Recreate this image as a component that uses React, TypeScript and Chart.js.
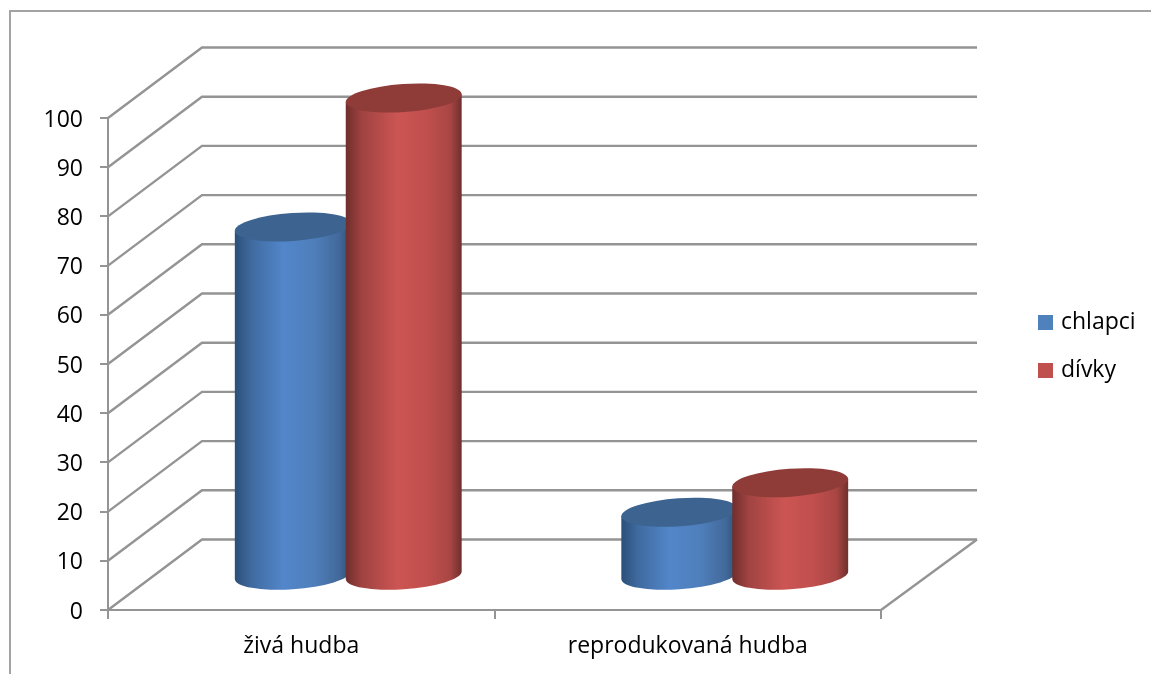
import React, { useEffect, useRef } from "react";
import { Chart, registerables } from "chart.js";

Chart.register(...registerables);

const categories = ["živá hudba", "reprodukovaná hudba"];
const chlapci = [71, 13];
const divky = [97.2, 19];
const seriesNames = ["chlapci", "dívky"];
const seriesColors = ["#4f81bd", "#c0504d"];
const topColors = ["#3d6491", "#8f3c39"];
const bodyStops = [
  [[0, "#2b4f78"], [0.14, "#3f6a9f"], [0.42, "#5286ca"], [0.68, "#4f7fbb"], [0.9, "#42699a"], [1, "#2d5078"]],
  [[0, "#6f2e2c"], [0.14, "#a04341"], [0.45, "#cc5553"], [0.7, "#c04f4d"], [0.9, "#a84644"], [1, "#702f2d"]],
];

const W = 1151;
const H = 674;
const DEPTH_X = 94;
const DEPTH_Y = -70.5;
const BASE_SHIFT = 1.5;
const TILT = (-4 * Math.PI) / 180;
const FONT = "'Open Sans', sans-serif";
const FONT_SIZE = 23;
const LINE = "#949494";

const drawCylinder = (ctx: any, bar: any, i: number) => {
  const hw = bar.width / 2;
  const cx = bar.x + DEPTH_X / 2;
  const topY = bar.y + DEPTH_Y / 2 + BASE_SHIFT;
  const botY = bar.base + DEPTH_Y / 2 + BASE_SHIFT;
  const ry = 14;
  const rx = Math.sqrt(Math.max(hw * hw - ry * ry * Math.sin(TILT) ** 2, 1)) / Math.cos(TILT);
  const tR = Math.atan2(-ry * Math.sin(TILT), rx * Math.cos(TILT));
  const yOff = rx * Math.cos(tR) * Math.sin(TILT) + ry * Math.sin(tR) * Math.cos(TILT);
  const g = ctx.createLinearGradient(cx - hw, 0, cx + hw, 0);
  bodyStops[i].forEach((s: any) => g.addColorStop(s[0], s[1]));
  ctx.save();
  ctx.fillStyle = g;
  ctx.beginPath();
  ctx.moveTo(cx - hw, topY - yOff);
  ctx.lineTo(cx - hw, botY - yOff);
  ctx.ellipse(cx, botY, rx, ry, TILT, tR + Math.PI, tR, true);
  ctx.lineTo(cx + hw, topY + yOff);
  ctx.closePath();
  ctx.fill();
  ctx.fillStyle = topColors[i];
  ctx.beginPath();
  ctx.ellipse(cx, topY, rx, ry, TILT, 0, Math.PI * 2);
  ctx.fill();
  ctx.restore();
};

const chart3d = {
  id: "chart3d",
  afterLayout(chart: any) {
    const l = chart.legend;
    const w = l.right - l.left;
    const h = l.bottom - l.top;
    l.left = 1041.5 - 25;
    l.right = l.left + w;
    l.top = 311 - 25;
    l.bottom = l.top + h;
  },
  beforeDraw(chart: any) {
    const { ctx } = chart;
    ctx.save();
    ctx.strokeStyle = "#a3a3a3";
    ctx.lineWidth = 2;
    ctx.strokeRect(10, 11, W + 20, H + 20);
    ctx.restore();
  },
  beforeDatasetsDraw(chart: any) {
    const { ctx, chartArea } = chart;
    const y = chart.scales.y;
    ctx.save();
    ctx.strokeStyle = LINE;
    ctx.lineWidth = 2.4;
    y.ticks.forEach((t: any) => {
      const py = y.getPixelForValue(t.value);
      ctx.beginPath();
      ctx.moveTo(chartArea.left, py);
      ctx.lineTo(chartArea.left + DEPTH_X, py + DEPTH_Y);
      ctx.lineTo(chartArea.right + DEPTH_X + 2, py + DEPTH_Y);
      ctx.stroke();
    });
    const py0 = y.getPixelForValue(0);
    ctx.beginPath();
    ctx.moveTo(chartArea.right, py0);
    ctx.lineTo(chartArea.right + DEPTH_X + 2, py0 + DEPTH_Y);
    ctx.stroke();
    ctx.restore();
    // Cylinders are painted first series first, so that the red one covers the blue one.
    chart.data.datasets.forEach((_: any, i: number) => {
      chart.getDatasetMeta(i).data.forEach((bar: any) => drawCylinder(ctx, bar, i));
    });
  },
  beforeDatasetDraw() {
    return false;
  },
};

export default function App() {
  const ref = useRef<HTMLCanvasElement | null>(null);
  useEffect(() => {
    const chart = new Chart(ref.current as HTMLCanvasElement, {
      type: "bar",
      data: {
        labels: categories,
        datasets: [
          { label: seriesNames[0], data: chlapci, backgroundColor: seriesColors[0], borderColor: seriesColors[0] },
          { label: seriesNames[1], data: divky, backgroundColor: seriesColors[1], borderColor: seriesColors[1] },
        ],
      },
      options: {
        animation: false,
        responsive: false,
        layout: { padding: { left: 0, top: 118, right: 270, bottom: 0 } },
        datasets: { bar: { categoryPercentage: 0.574, barPercentage: 1.045 } },
        scales: {
          x: {
            afterFit: (s: any) => { s.height = 64; },
            grid: { drawOnChartArea: false, drawTicks: true, tickLength: 9, color: LINE, lineWidth: 2 },
            border: { color: LINE, width: 2 },
            ticks: { color: "#000", font: { family: FONT, size: FONT_SIZE }, padding: 14, maxRotation: 0 },
          },
          y: {
            min: 0,
            max: 100,
            afterFit: (s: any) => { s.width = 108; },
            grid: { drawOnChartArea: false, drawTicks: true, tickLength: 8, color: LINE, lineWidth: 2 },
            border: { color: LINE, width: 2 },
            ticks: { stepSize: 10, color: "#000", font: { family: FONT, size: FONT_SIZE }, padding: 17, labelOffset: 2 },
          },
        },
        plugins: {
          title: { display: false },
          tooltip: { enabled: false },
          legend: {
            position: "chartArea",
            align: "start",
            labels: {
              color: "#000",
              font: { family: FONT, size: FONT_SIZE },
              boxWidth: 8,
              boxHeight: 8,
              padding: 25,
              generateLabels: (c: any) =>
                c.data.datasets.map((d: any, i: number) => ({
                  text: d.label,
                  fillStyle: d.backgroundColor,
                  strokeStyle: d.backgroundColor,
                  lineWidth: 7,
                  datasetIndex: i,
                })),
            },
          },
        },
      } as any,
      plugins: [chart3d],
    });
    return () => chart.destroy();
  }, []);
  return (
    <div style={{ position: "absolute", left: 0, top: 0, width: W, height: H, overflow: "hidden", background: "#fff" }}>
      <canvas ref={ref} width={W} height={H} style={{ display: "block" }} />
    </div>
  );
}
